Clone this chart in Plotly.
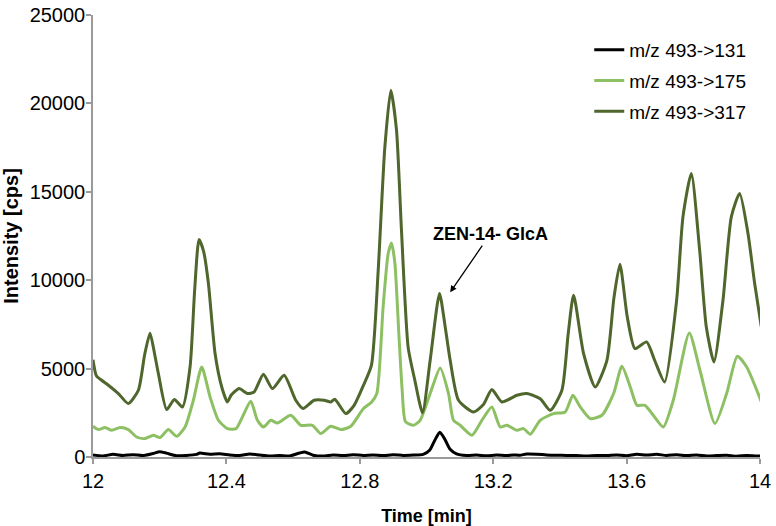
import plotly.graph_objects as go

# ---- data ----
t_131 = [12.00, 12.03, 12.06, 12.09, 12.12, 12.15, 12.18, 12.20, 12.22, 12.25, 12.28, 12.31, 12.32, 12.35,
         12.38, 12.41, 12.44, 12.47, 12.50, 12.53, 12.56, 12.59, 12.62, 12.635, 12.66, 12.69, 12.72, 12.75,
         12.78, 12.81, 12.84, 12.87, 12.90, 12.93, 12.96, 12.99, 13.01, 13.025, 13.04, 13.055, 13.07, 13.09,
         13.12, 13.15, 13.18, 13.21, 13.24, 13.26, 13.28, 13.30, 13.33, 13.36, 13.39, 13.42, 13.45, 13.48,
         13.51, 13.54, 13.57, 13.60, 13.63, 13.66, 13.69, 13.72, 13.75, 13.78, 13.81, 13.84, 13.87, 13.90,
         13.93, 13.96, 13.99, 14.01]
i_131 = [120, 60, 150, 90, 130, 80, 200, 300, 220, 70, 90, 150, 220, 160,
         180, 120, 90, 170, 110, 60, 80, 60, 230, 280, 100, 50, 110, 80,
         130, 90, 120, 80, 130, 90, 110, 150, 400, 950, 1400, 1000, 450, 180,
         90, 110, 70, 110, 80, 120, 100, 170, 160, 120, 100, 90, 80, 60,
         90, 80, 120, 70, 160, 110, 150, 90, 130, 80, 120, 60, 80, 100,
         40, 90, 60, 70]

t_175 = [12.000, 12.016, 12.036, 12.056, 12.081, 12.106, 12.131, 12.156, 12.181, 12.201, 12.226, 12.251,
         12.276, 12.301, 12.326, 12.351, 12.376, 12.403, 12.429, 12.448, 12.473, 12.493, 12.511, 12.533,
         12.553, 12.593, 12.623, 12.658, 12.683, 12.713, 12.743, 12.773, 12.811, 12.835, 12.851, 12.870,
         12.885, 12.895, 12.905, 12.917, 12.927, 12.937, 12.961, 12.981, 13.011, 13.041, 13.066, 13.081,
         13.101, 13.136, 13.166, 13.196, 13.221, 13.241, 13.271, 13.291, 13.311, 13.341, 13.381, 13.416,
         13.439, 13.461, 13.491, 13.526, 13.561, 13.586, 13.611, 13.631, 13.655, 13.680, 13.710, 13.740,
         13.788, 13.820, 13.865, 13.900, 13.932, 13.960, 14.008]
i_175 = [1738, 1550, 1664, 1511, 1664, 1550, 1132, 1041, 1228, 1098, 1550, 1171,
         1698, 3210, 5094, 3396, 2077, 1607, 1607, 2264, 3153, 2077, 1698, 2077,
         1924, 2360, 1794, 1794, 1324, 1738, 1550, 1738, 2740, 3100, 3590, 8500,
         11500, 12100, 11000, 7000, 3800, 2000, 1794, 2077, 3590, 5040, 3590, 2077,
         1794, 1228, 2077, 2830, 1698, 1794, 1511, 1607, 1285, 2077, 2456, 2547,
         3490, 2830, 2173, 2360, 3590, 5134, 3962, 2926, 2926, 2360, 1698, 3210,
         7018, 4907, 1890, 3590, 5700, 5094, 2926]

t_317 = [12.000, 12.010, 12.026, 12.046, 12.076, 12.106, 12.136, 12.155, 12.171, 12.185, 12.196, 12.221,
         12.244, 12.268, 12.291, 12.305, 12.318, 12.332, 12.346, 12.366, 12.386, 12.403, 12.414, 12.438,
         12.463, 12.483, 12.511, 12.538, 12.573, 12.608, 12.630, 12.663, 12.693, 12.713, 12.725, 12.758,
         12.783, 12.811, 12.835, 12.855, 12.875, 12.893, 12.910, 12.925, 12.945, 12.965, 12.988, 13.011,
         13.039, 13.055, 13.071, 13.096, 13.141, 13.170, 13.196, 13.226, 13.271, 13.301, 13.341, 13.371,
         13.406, 13.425, 13.441, 13.471, 13.506, 13.541, 13.562, 13.580, 13.602, 13.625, 13.660, 13.684,
         13.714, 13.750, 13.769, 13.794, 13.819, 13.839, 13.862, 13.889, 13.914, 13.939, 13.964, 13.984,
         14.004]
i_317 = [5500, 4600, 4340, 4060, 3590, 3020, 3775, 5800, 7000, 5800, 4720, 2680,
         3250, 2830, 5094, 9500, 12300, 11600, 9830, 5850, 3960, 3113, 3490, 3870,
         3590, 3680, 4680, 3870, 4620, 3210, 2740, 3210, 3210, 3113, 3266, 2456,
         2926, 4058, 5200, 10500, 17500, 20750, 18500, 12800, 6200, 4340, 2500, 5470,
         9250, 7500, 5470, 3210, 2547, 2950, 3815, 3113, 3490, 3590, 3300, 2643,
         3775, 7000, 9150, 5850, 3962, 5470, 9000, 10900, 7924, 6135, 6510, 5473,
         4245, 8870, 13584, 16040, 11700, 7358, 5377, 8869, 13584, 14908, 12644, 9814,
         7358]

series_names = ["m/z 493->131", "m/z 493->175", "m/z 493->317"]
series_colors = ["#000000", "#8DC063", "#4F662C"]
x_ticks = [12, 12.4, 12.8, 13.2, 13.6, 14]
x_ticktext = ["12", "12.4", "12.8", "13.2", "13.6", "14"]
y_ticks = [0, 5000, 10000, 15000, 20000, 25000]

FONT = "Liberation Sans, Arial, sans-serif"

fig = go.Figure()
for i, (tx, iy) in enumerate([(t_131, i_131), (t_175, i_175), (t_317, i_317)]):
    fig.add_trace(go.Scatter(
        x=tx, y=iy, mode="lines", name=series_names[i],
        legendgroup=f"g{i}",
        line=dict(color=series_colors[i], width=3, shape="spline", smoothing=0.6),
    ))

fig.add_annotation(
    x=13.071, y=9322, xref="x", yref="y",
    text="<b>ZEN-14- GlcA</b>",
    showarrow=True, ax=40, ay=-58, arrowhead=2, arrowsize=1, arrowwidth=1.3,
    arrowcolor="#000000", standoff=0,
    font=dict(family=FONT, size=18, color="#000000"),
)

axis_common = dict(
    showline=True, linecolor="#9a9a9a", linewidth=1.5,
    ticks="outside", ticklen=5, tickcolor="#9a9a9a", tickwidth=1.5,
    showgrid=False, zeroline=False, automargin=False,
    tickfont=dict(family=FONT, size=20, color="#000000"),
)

fig.update_layout(
    width=776, height=526,
    margin=dict(l=93, r=16, t=15, b=69),
    paper_bgcolor="white", plot_bgcolor="white",
    font=dict(family=FONT, color="#000000"),
    xaxis=dict(range=[12, 14], tickvals=x_ticks, ticktext=x_ticktext,
               title=dict(text="<b>Time [min]</b>", font=dict(family=FONT, size=18), standoff=21),
               **axis_common),
    yaxis=dict(range=[0, 25000], tickvals=y_ticks, tickformat="d", ticklabelstandoff=-3,
               title=dict(text="<b>Intensity [cps]</b>", font=dict(family=FONT, size=20), standoff=10),
               **axis_common),
    legend=dict(x=0.744, y=0.964, xanchor="left", yanchor="top",
                font=dict(family=FONT, size=19, color="#000000"),
                bgcolor="rgba(0,0,0,0)", tracegroupgap=3, itemwidth=30),
    showlegend=True,
)

fig.write_html("out.html", config={"displayModeBar": False},
               post_script="document.body.style.margin='0';document.body.style.padding='0';")
